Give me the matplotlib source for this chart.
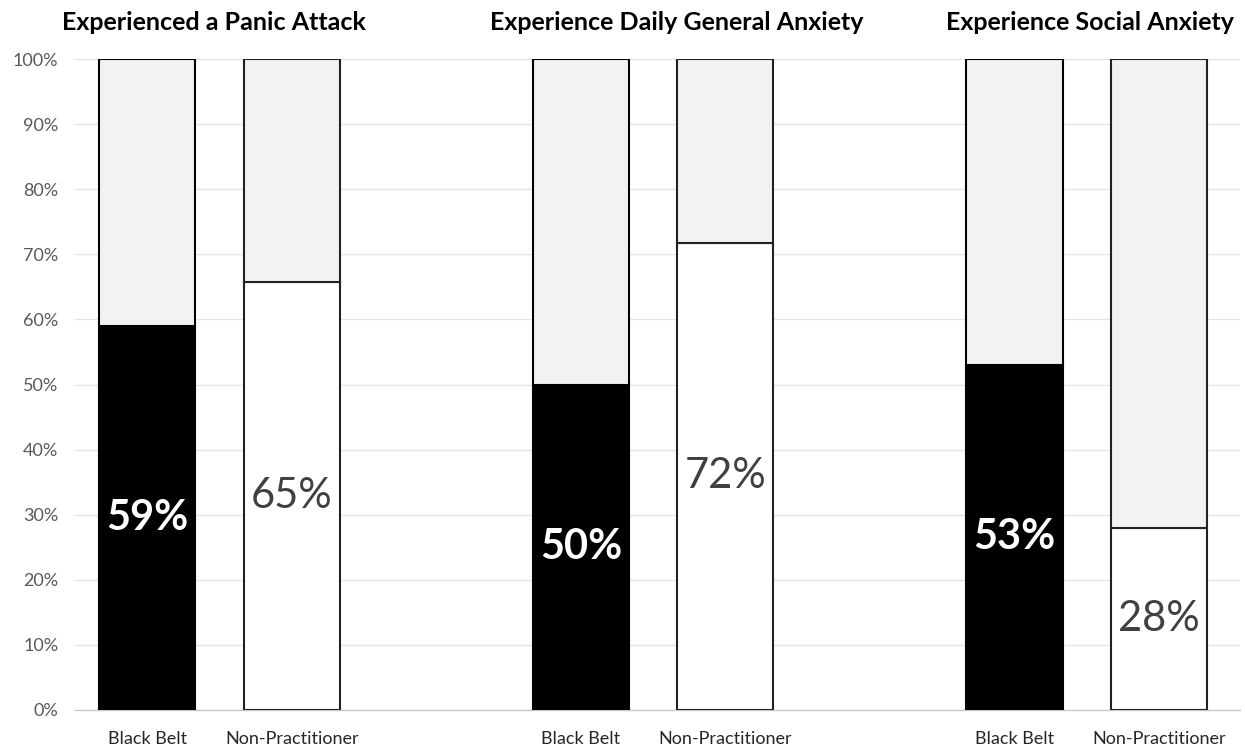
import matplotlib
matplotlib.use("Agg")
import matplotlib.pyplot as plt

plt.rcParams['font.family'] = ['Lato', 'DejaVu Sans']

titles = ["Experienced a Panic Attack", "Experience Daily General Anxiety", "Experience Social Anxiety"]
groups = ["Black Belt", "Non-Practitioner"]
black_belt = [59, 50, 53]
non_practitioner = [65.7, 71.8, 28]
black_labels = ["59%", "50%", "53%"]
non_labels = ["65%", "72%", "28%"]

W, H = 1245, 750
fig = plt.figure(figsize=(W / 100, H / 100), dpi=100)
ax = fig.add_axes([75 / W, 40 / H, 1165 / W, 651 / H])

title_px = [214, 677, 1090]

w = 0.665
for i in range(3):
    x1 = 3 * i
    x2 = 3 * i + 1
    ax.bar(x1, black_belt[i], w, color='black', edgecolor='black', linewidth=1.5, zorder=3)
    ax.bar(x1, 100 - black_belt[i], w, bottom=black_belt[i], color='#f2f2f2', edgecolor='black', linewidth=1.5, zorder=3)
    ax.bar(x2, non_practitioner[i], w, color='white', edgecolor='#222222', linewidth=1.5, zorder=3)
    ax.bar(x2, 100 - non_practitioner[i], w, bottom=non_practitioner[i], color='#f2f2f2', edgecolor='#222222', linewidth=1.5, zorder=3)
    ax.text(x1, black_belt[i] / 2, black_labels[i], color='white', fontsize=30, fontweight='bold',
            ha='center', va='center', zorder=4)
    ax.text(x2, non_practitioner[i] / 2, non_labels[i], color='#404040', fontsize=30,
            ha='center', va='center', zorder=4)
    fig.text(title_px[i] / W, 1 - 22 / H, titles[i], ha='center', va='center',
             fontsize=18, fontweight='bold', color='black')

ax.set_xlim(-0.5, 7.56)
ax.set_ylim(0, 100)
ax.set_yticks(range(0, 101, 10))
ax.set_yticklabels([f"{v}%" for v in range(0, 101, 10)], color='#595959', fontsize=13)
xt = []
xl = []
for i in range(3):
    xt += [3 * i, 3 * i + 1]
    xl += groups
ax.set_xticks(xt)
ax.set_xticklabels(xl, fontsize=13, color='#262626')
ax.tick_params(axis='both', length=0)
ax.tick_params(axis='x', pad=15)
ax.tick_params(axis='y', pad=12)
ax.yaxis.grid(True, color='#e3e3e3', linewidth=0.9, zorder=0)
for s in ['top', 'right', 'left']:
    ax.spines[s].set_visible(False)
ax.spines['bottom'].set_color('#c8c8c8')
ax.spines['bottom'].set_linewidth(1.0)

fig.savefig("out.png", dpi=100)
